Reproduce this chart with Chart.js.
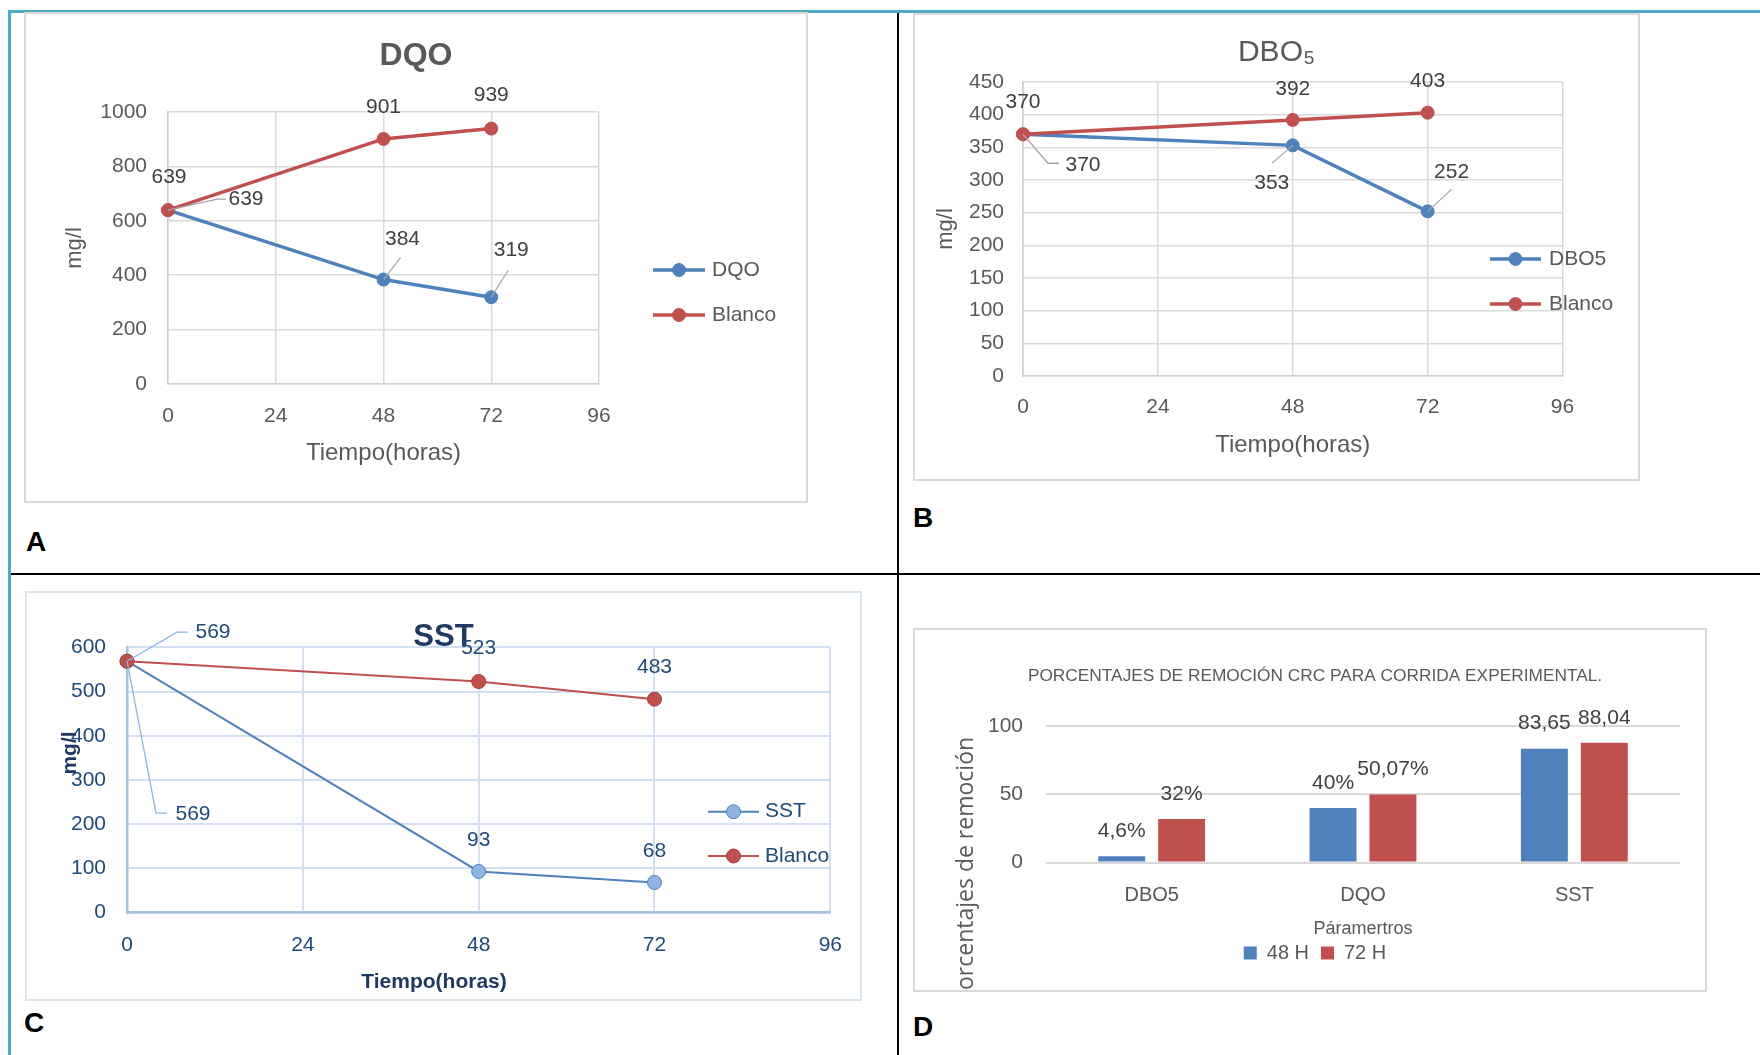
<!DOCTYPE html>
<html>
<head>
<meta charset="utf-8">
<script src="https://cdn.jsdelivr.net/npm/chart.js@4.4.1/dist/chart.umd.min.js"></script>
<style>
  body { margin: 0; background: #fff; width: 1760px; height: 1055px; position: relative; overflow: hidden; font-family: 'Liberation Sans', Arial, sans-serif; }
  .ln { position: absolute; }
  .box { position: absolute; }
  .box canvas { position: absolute; left: 0; top: 0; }
  .frame { position: absolute; pointer-events: none; box-sizing: border-box; }
  .tag { position: absolute; font-weight: bold; font-size: 28px; line-height: 28px; color: #000; }
</style>
</head>
<body>
<div class="ln" style="left:8px;top:10px;width:1752px;height:3px;background:#4bacc6"></div>
<div class="ln" style="left:8px;top:10px;width:3px;height:1045px;background:#4bacc6"></div>
<div class="ln" style="left:897px;top:13px;width:2px;height:1042px;background:#000"></div>
<div class="ln" style="left:11px;top:573px;width:1749px;height:2px;background:#000"></div>

<div class="box" style="left:24px;top:12px;width:784px;height:491px"><canvas id="chartA" width="784" height="491"></canvas></div>
<div class="frame" style="left:24px;top:12px;width:784px;height:491px;border:2px solid #d9d9d9"></div>

<div class="box" style="left:913px;top:13px;width:727px;height:468px"><canvas id="chartB" width="727" height="468"></canvas></div>
<div class="frame" style="left:913px;top:13px;width:727px;height:468px;border:2px solid #d9d9d9"></div>

<div class="box" style="left:25px;top:591px;width:837px;height:410px"><canvas id="chartC" width="837" height="410"></canvas></div>
<div class="frame" style="left:25px;top:591px;width:837px;height:410px;border:2px solid #dbe5f1"></div>

<div class="box" style="left:913px;top:628px;width:794px;height:364px"><canvas id="chartD" width="794" height="364"></canvas></div>
<div class="frame" style="left:913px;top:628px;width:794px;height:364px;border:2px solid #d9d9d9"></div>

<div class="tag" style="left:26px;top:528px">A</div>
<div class="tag" style="left:913px;top:504px">B</div>
<div class="tag" style="left:24px;top:1009px">C</div>
<div class="tag" style="left:913px;top:1013px">D</div>

<script>
// tiempo de muestreo (horas)
const hours = [0, 48, 72];
const xTicks = { min: 0, max: 96, step: 24 };

// DQO (mg/l)
const dqo = [639, 384, 319];
const dqoBlanco = [639, 901, 939];

// DBO5 (mg/l)
const dbo5 = [370, 353, 252];
const dboBlanco = [370, 392, 403];

// SST (mg/l)
const sst = [569, 93, 68];
const sstBlanco = [569, 523, 483];

// porcentajes de remocion
const params = ['DBO5', 'DQO', 'SST'];
const rem48 = [4.6, 40, 83.65];
const rem72 = [32, 50.07, 88.04];
const rem48Text = ['4,6%', '40%', '83,65'];
const rem72Text = ['32%', '50,07%', '88,04'];

const BLUE = '#4f81bd';
const RED = '#c0504d';
const GREY = '#595959';
const DARK = '#404040';
const NAVY = '#1f497d';
const FONT = "'Liberation Sans', Arial, sans-serif";

Chart.defaults.font.family = FONT;
Chart.defaults.color = GREY;

const pts = vals => hours.map((h, i) => ({ x: h, y: vals[i] }));

// etiquetas de valor con lineas guia
const valueTags = {
  id: 'valueTags',
  afterDatasetsDraw(chart, args, o) {
    const ctx = chart.ctx;
    ctx.save();
    ctx.font = o.font;
    ctx.textAlign = 'center';
    ctx.textBaseline = 'middle';
    for (const t of o.items) {
      const el = chart.getDatasetMeta(t.ds).data[t.i];
      const raw = chart.data.datasets[t.ds].data[t.i];
      const txt = t.text !== undefined ? t.text : String(raw.y !== undefined ? raw.y : raw);
      if (t.lead) {
        ctx.strokeStyle = o.leadColor;
        ctx.lineWidth = 1.3;
        ctx.beginPath();
        ctx.moveTo(el.x, el.y);
        t.lead.forEach(p => ctx.lineTo(el.x + p[0], el.y + p[1]));
        ctx.stroke();
      }
      ctx.fillStyle = o.color;
      ctx.fillText(txt, el.x + t.dx, el.y + t.dy);
    }
    ctx.restore();
  }
};

// leyenda estilo linea + marcador
const sideLegend = {
  id: 'sideLegend',
  afterDraw(chart, args, o) {
    if (!o || !o.y) return;
    const ctx = chart.ctx;
    chart.data.datasets.forEach((ds, i) => {
      const y = o.y[i];
      ctx.save();
      ctx.strokeStyle = ds.borderColor;
      ctx.lineWidth = ds.borderWidth;
      ctx.beginPath();
      ctx.moveTo(o.x0, y);
      ctx.lineTo(o.x1, y);
      ctx.stroke();
      ctx.fillStyle = ds.pointBackgroundColor;
      ctx.strokeStyle = ds.pointBorderColor;
      ctx.lineWidth = 1;
      ctx.beginPath();
      ctx.arc((o.x0 + o.x1) / 2, y, ds.pointRadius, 0, Math.PI * 2);
      ctx.fill();
      ctx.stroke();
      ctx.fillStyle = o.color;
      ctx.font = o.font;
      ctx.textAlign = 'left';
      ctx.textBaseline = 'middle';
      ctx.fillText(ds.label, o.tx, y);
      ctx.restore();
    });
  }
};

// titulos de eje colocados a mano (donde Excel los desplazo)
const freeText = {
  id: 'freeText',
  afterDraw(chart, args, o) {
    if (!o || !o.items) return;
    const ctx = chart.ctx;
    for (const t of o.items) {
      ctx.save();
      ctx.translate(t.x, t.y);
      if (t.rot) ctx.rotate(t.rot);
      ctx.font = t.font;
      ctx.fillStyle = t.color;
      ctx.textAlign = t.align || 'center';
      ctx.textBaseline = 'middle';
      ctx.fillText(t.text, 0, 0);
      ctx.restore();
    }
  }
};

function series(label, vals, color, width, radius, fill, border, order) {
  return {
    label: label, data: pts(vals), borderColor: color, backgroundColor: color,
    borderWidth: width, pointRadius: radius, pointBackgroundColor: fill,
    pointBorderColor: border, pointBorderWidth: 1, clip: false, order: order,
    tension: 0
  };
}

function lineChart(id, cfg) {
  return new Chart(document.getElementById(id), {
    type: 'line',
    data: { datasets: cfg.datasets },
    plugins: [valueTags, sideLegend, freeText],
    options: {
      responsive: false, animation: false, devicePixelRatio: 1,
      layout: { padding: 0 },
      plugins: {
        legend: { display: false },
        tooltip: { enabled: false },
        title: {
          display: true, text: cfg.title, color: cfg.titleColor,
          font: { size: cfg.titleSize, weight: cfg.titleWeight },
          padding: { top: cfg.titlePad[0], bottom: cfg.titlePad[1] }
        },
        valueTags: cfg.tags,
        sideLegend: cfg.legend,
        freeText: cfg.free || {}
      },
      scales: {
        x: {
          type: 'linear', min: xTicks.min, max: xTicks.max,
          ticks: { stepSize: xTicks.step, padding: cfg.xTickPad, color: cfg.tickColor, font: { size: 21 } },
          grid: { color: cfg.gridColor, lineWidth: cfg.gridWidth, drawTicks: false },
          border: { color: cfg.axisColor, width: cfg.axisWidth },
          title: {
            display: !cfg.free, text: 'Tiempo(horas)', color: cfg.tickColor,
            font: { size: cfg.xTitleSize, weight: cfg.axisTitleWeight },
            padding: { top: 0, bottom: cfg.xTitlePad }
          },
          afterFit(s) { s.height = cfg.xHeight; }
        },
        y: {
          min: 0, max: cfg.yMax,
          ticks: { stepSize: cfg.yStep, padding: cfg.yTickPad, color: cfg.tickColor, font: { size: 21 },
                   callback: v => String(v) },
          grid: { color: cfg.gridColor, lineWidth: cfg.gridWidth, drawTicks: false },
          border: { color: cfg.axisColor, width: cfg.axisWidth },
          title: {
            display: !cfg.free, text: 'mg/l', color: cfg.tickColor,
            font: { size: cfg.yTitleSize, weight: cfg.axisTitleWeight },
            padding: { top: cfg.yTitlePad, bottom: 0 }
          },
          afterFit(s) { s.width = cfg.yWidth; }
        },
        yr: {
          type: 'linear', position: 'right', display: true,
          grid: { display: false }, border: { display: false }, ticks: { display: false },
          afterFit(s) { s.width = cfg.rightWidth; }
        }
      }
    }
  });
}

// A: DQO
lineChart('chartA', {
  title: 'DQO', titleColor: GREY, titleSize: 32, titleWeight: 'bold', titlePad: [24.8, 36.8],
  datasets: [
    series('DQO', dqo, BLUE, 3.5, 6.5, BLUE, BLUE, 1),
    series('Blanco', dqoBlanco, RED, 3.5, 6.5, RED, RED, 0)
  ],
  yMax: 1000, yStep: 200, yWidth: 144, yTickPad: 21, yTitlePad: 37.8, yTitleSize: 22,
  xHeight: 119, xTickPad: 19.5, xTitlePad: 35.6, xTitleSize: 24, rightWidth: 209,
  tickColor: GREY, gridColor: '#d9d9d9', gridWidth: 1.5, axisColor: '#cfcfcf', axisWidth: 1.5,
  axisTitleWeight: 'normal',
  legend: { x0: 629, x1: 681, tx: 688, y: [258, 303], color: GREY, font: '21px ' + FONT },
  tags: {
    font: '21px ' + FONT, color: DARK, leadColor: '#a6a6a6',
    items: [
      { ds: 1, i: 0, dx: 1, dy: -33 },
      { ds: 0, i: 0, dx: 78, dy: -11, lead: [[49, -11], [58, -11]] },
      { ds: 1, i: 1, dx: 0, dy: -32 },
      { ds: 1, i: 2, dx: 0, dy: -33 },
      { ds: 0, i: 1, dx: 19, dy: -40, lead: [[17, -22]] },
      { ds: 0, i: 2, dx: 20, dy: -47, lead: [[17, -27]] }
    ]
  }
});

// B: DBO5
lineChart('chartB', {
  title: 'DBO₅', titleColor: GREY, titleSize: 30, titleWeight: 'normal', titlePad: [21.8, 11.2],
  datasets: [
    series('DBO5', dbo5, BLUE, 3.5, 6.5, BLUE, BLUE, 1),
    series('Blanco', dboBlanco, RED, 3.5, 6.5, RED, RED, 0)
  ],
  yMax: 450, yStep: 50, yWidth: 110, yTickPad: 19, yTitlePad: 19.8, yTitleSize: 22,
  xHeight: 105, xTickPad: 18.5, xTitlePad: 21, xTitleSize: 24, rightWidth: 77.5,
  tickColor: GREY, gridColor: '#d9d9d9', gridWidth: 1.5, axisColor: '#cfcfcf', axisWidth: 1.5,
  axisTitleWeight: 'normal',
  legend: { x0: 577, x1: 628, tx: 636, y: [246, 291], color: GREY, font: '21px ' + FONT },
  tags: {
    font: '21px ' + FONT, color: DARK, leadColor: '#a6a6a6',
    items: [
      { ds: 1, i: 0, dx: 0, dy: -32 },
      { ds: 0, i: 0, dx: 60, dy: 31, lead: [[25, 29], [36, 29]] },
      { ds: 1, i: 1, dx: 0, dy: -31 },
      { ds: 1, i: 2, dx: 0, dy: -32 },
      { ds: 0, i: 1, dx: -21, dy: 38, lead: [[-21, 18]] },
      { ds: 0, i: 2, dx: 24, dy: -39, lead: [[24, -22]] }
    ]
  }
});

// C: SST
lineChart('chartC', {
  title: 'SST', titleColor: '#1f3864', titleSize: 31, titleWeight: 'bold', titlePad: [27.4, -8.1],
  datasets: [
    series('SST', sst, BLUE, 2, 7, '#8eb4e3', BLUE, 1),
    series('Blanco', sstBlanco, RED, 2, 7, '#c0504d', '#a33c39', 0)
  ],
  yMax: 600, yStep: 100, yWidth: 102, yTickPad: 21, yTitlePad: 31.8, yTitleSize: 21,
  xHeight: 88.5, xTickPad: 20, xTitlePad: 6.4, xTitleSize: 21, rightWidth: 28,
  tickColor: NAVY, gridColor: '#d3e0f1', gridWidth: 2, axisColor: '#a9c2e3', axisWidth: 2.5,
  axisTitleWeight: 'bold',
  legend: { x0: 683, x1: 734, tx: 740, y: [220.7, 265], color: NAVY, font: '21px ' + FONT },
  free: {
    items: [
      { text: 'Tiempo(horas)', x: 409, y: 391, font: 'bold 21px ' + FONT, color: '#1f3864' },
      { text: 'mg/l', x: 45, y: 162, rot: -Math.PI / 2, font: 'bold 21px ' + FONT, color: '#1f3864' }
    ]
  },
  tags: {
    font: '21px ' + FONT, color: NAVY, leadColor: '#8eb4e3',
    items: [
      { ds: 0, i: 0, dx: 86, dy: -29, lead: [[50, -29], [61, -29]] },
      { ds: 1, i: 0, dx: 66, dy: 153, lead: [[29, 152], [40, 152]] },
      { ds: 1, i: 1, dx: 0, dy: -33 },
      { ds: 1, i: 2, dx: 0, dy: -32 },
      { ds: 0, i: 1, dx: 0, dy: -31 },
      { ds: 0, i: 2, dx: 0, dy: -31 }
    ]
  }
});

// D: porcentajes de remocion
new Chart(document.getElementById('chartD'), {
  type: 'bar',
  data: {
    labels: params,
    datasets: [
      { label: '48 H', data: rem48, backgroundColor: BLUE, categoryPercentage: 0.567, barPercentage: 0.783 },
      { label: '72 H', data: rem72, backgroundColor: RED, categoryPercentage: 0.567, barPercentage: 0.783 }
    ]
  },
  plugins: [valueTags, freeText],
  options: {
    responsive: false, animation: false, devicePixelRatio: 1,
    layout: { padding: { left: 37, right: 27, top: 0, bottom: 19 } },
    plugins: {
      tooltip: { enabled: false },
      title: {
        display: true, text: 'PORCENTAJES DE REMOCIÓN CRC PARA CORRIDA EXPERIMENTAL.', color: GREY,
        font: { size: 17.3, weight: 'normal' }, padding: { top: 38.3, bottom: 39.4 }
      },
      legend: {
        position: 'bottom',
        labels: { boxWidth: 13, boxHeight: 13, padding: 12, color: GREY, font: { size: 20 } }
      },
      valueTags: {
        font: '21px ' + FONT, color: DARK, leadColor: '#a6a6a6',
        items: rem48Text.map((t, i) => ({ ds: 0, i: i, dx: 0, dy: -25, text: t }))
          .concat(rem72Text.map((t, i) => ({ ds: 1, i: i, dx: 0, dy: -25, text: t })))
      },
      freeText: {
        items: [
          { text: 'orcentajes de remoción', x: 53, y: 362, rot: -Math.PI / 2, align: 'left',
            font: "23px 'Open Sans', sans-serif", color: GREY }
        ]
      }
    },
    scales: {
      x: {
        grid: { display: false }, border: { display: false },
        ticks: { padding: 13, color: GREY, font: { size: 20 } },
        title: { display: true, text: 'Páramertros', color: GREY, font: { size: 18 }, padding: { top: 0, bottom: -9.3 } },
        afterFit(s) { s.height = 68.5; }
      },
      y: {
        min: 0, max: 100,
        ticks: { stepSize: 50, padding: 23, color: GREY, font: { size: 21 } },
        grid: { color: '#d9d9d9', lineWidth: 2, drawTicks: false },
        border: { display: false },
        afterFit(s) { s.width = 96; }
      }
    }
  }
});
</script>
</body>
</html>
